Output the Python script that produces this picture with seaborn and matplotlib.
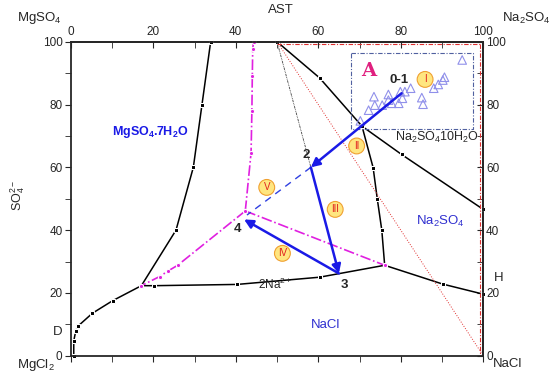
import matplotlib
matplotlib.use("Agg")
import matplotlib.pyplot as plt
import seaborn as sns
import pandas as pd
from matplotlib.ticker import MultipleLocator

# boundary curves of the phase diagram (x = Na2SO4 side, y = SO4 %)
mg7_x = [33.9, 31.8, 29.7, 25.5, 17.1]
mg7_y = [100, 80, 60, 40, 22.3]
d_x = [17.1, 10.1, 5.2, 1.8, 1.2, 0.7, 0.7]
d_y = [22.3, 17.5, 13.5, 9.5, 8.0, 4.7, 0]
nacl_x = [17.1, 20.2, 40.3, 60.3, 76.1]
nacl_y = [22.3, 22.3, 22.7, 25.0, 28.8]
h_x = [76.1, 90.2, 100]
h_y = [28.8, 22.8, 19.6]
na10_x = [70.6, 73.3, 74.3, 75.4, 76.1]
na10_y = [73.1, 59.9, 50.0, 40.0, 28.8]
ast_x = [50, 60.3, 70.6, 80.2, 100]
ast_y = [100, 88.5, 73.1, 64.1, 46.6]

# magenta dash-dot paths
mv_x = [44.3, 44.1, 44.0, 43.9, 43.7, 42.3]
mv_y = [100, 97.7, 89.1, 78.0, 64.6, 46.1]
ml_x = [42.3, 25.9, 23.6, 21.5, 17.1]
ml_y = [46.1, 28.8, 27.0, 25.2, 22.3]
mr_x = [42.3, 76.1]
mr_y = [46.1, 28.8]

# evaporation path points 0-1 -> 2 -> 3 -> 4
path_x = [80.2, 58.2, 65.0, 42.0]
path_y = [83.6, 60.0, 26.2, 43.4]

# samples in box A
tri_x = [94.9, 90.6, 90.2, 89.1, 88.0, 85.1, 85.4, 82.4, 81.0, 79.9,
         80.4, 79.5, 77.0, 77.0, 77.8, 75.5, 73.5, 73.7, 72.2, 70.2]
tri_y = [94.2, 88.7, 87.8, 86.4, 85.2, 82.2, 80.1, 85.2, 84.1, 84.1,
         82.0, 80.4, 83.2, 81.4, 80.4, 79.8, 82.5, 79.8, 78.2, 74.8]

roman = ["I", "II", "III", "IV", "V"]
roman_x = [85.9, 69.3, 64.1, 51.3, 47.5]
roman_y = [88.0, 66.8, 46.6, 32.6, 53.6]

sns.set_style("ticks")
plt.rcParams["font.family"] = ["Liberation Sans", "DejaVu Sans"]
plt.rcParams["mathtext.fontset"] = "custom"
plt.rcParams["mathtext.rm"] = "Liberation Sans"
plt.rcParams["mathtext.it"] = "Liberation Sans:italic"
plt.rcParams["mathtext.bf"] = "Liberation Sans:bold"

fig = plt.figure(figsize=(5.58, 3.76), dpi=100)
ax = fig.add_axes([0.127, 0.054, 0.739, 0.835])

def curve(xs, ys, **kw):
    df = pd.DataFrame({"x": xs, "y": ys})
    sns.lineplot(data=df, x="x", y="y", sort=False, estimator=None, ax=ax, clip_on=False, **kw)

for xs, ys in [(mg7_x, mg7_y), (d_x, d_y), (nacl_x, nacl_y), (h_x, h_y),
               (na10_x, na10_y), (ast_x, ast_y)]:
    curve(xs, ys, color="black", lw=1.1, marker="s", markersize=2.5)

for xs, ys in [(mv_x, mv_y), (ml_x, ml_y), (mr_x, mr_y)]:
    curve(xs, ys, color="#e020e0", lw=1.2, linestyle="-.", marker="o", markersize=3)

# guide lines
curve([50, 100], [100, 0], color="#e03030", lw=0.7, linestyle=":")
curve([50, 99.3], [99.3, 99.3], color="#e03030", lw=0.8, linestyle=(0, (4, 1.5, 1, 1.5)))
curve([99.3, 99.3], [99.3, 0], color="#e03030", lw=0.8, linestyle=(0, (4, 1.5, 1, 1.5)))
curve([50, path_x[1]], [100, path_y[1]], color="#404040", lw=0.6, linestyle=(0, (3, 1, 1, 1, 1, 1)))
curve([path_x[1], 42.7], [path_y[1], 44.8], color="#3040e0", lw=1.0, linestyle=(0, (5, 4)))

# box A
curve([68.0, 97.6, 97.6, 68.0, 68.0], [96.3, 96.3, 72.1, 72.1, 96.3],
      color="#5060a0", lw=0.8, linestyle=(0, (4, 1.5, 1, 1.5)))

sns.scatterplot(x=tri_x, y=tri_y, marker="^", s=38, facecolors="none",
                edgecolor="#9090ea", linewidth=0.8, ax=ax, zorder=4)

for i in range(len(path_x) - 1):
    ax.annotate("", xy=(path_x[i + 1], path_y[i + 1]), xytext=(path_x[i], path_y[i]),
                arrowprops=dict(arrowstyle="-|>", color="#1a1ae6", lw=1.8,
                                mutation_scale=13, shrinkA=0, shrinkB=0), zorder=5)

for r, x, y in zip(roman, roman_x, roman_y):
    ax.text(x, y, r, color="#e02020", fontsize=7, ha="center", va="center", zorder=6,
            bbox=dict(boxstyle="circle,pad=0.3", fc="#ffe680", ec="#f0a030", lw=0.8))

ax.set_xlim(0, 100)
ax.set_ylim(0, 100)
ax.set_xlabel("")
ax.set_ylabel("")
for s in ax.spines.values():
    s.set_visible(True)
    s.set_linewidth(1.3)

ax.xaxis.set_major_locator(MultipleLocator(20))
ax.xaxis.set_minor_locator(MultipleLocator(10))
ax.yaxis.set_major_locator(MultipleLocator(20))
ax.yaxis.set_minor_locator(MultipleLocator(10))
ax.tick_params(axis="x", which="both", direction="out", length=4, labelbottom=False)
ax.tick_params(axis="y", which="both", direction="out", length=4, labelsize=8.5, pad=2)

top = ax.secondary_xaxis("top")
top.xaxis.set_major_locator(MultipleLocator(20))
top.xaxis.set_minor_locator(MultipleLocator(10))
top.tick_params(which="both", direction="in", length=4, labelsize=8.5, pad=3)
top.spines["top"].set_linewidth(1.3)
top.yaxis.set_visible(False)

right = ax.secondary_yaxis("right")
right.yaxis.set_major_locator(MultipleLocator(20))
right.yaxis.set_minor_locator(MultipleLocator(10))
right.tick_params(which="both", direction="in", length=4, labelsize=8.5, pad=2)
right.spines["right"].set_linewidth(1.3)
right.xaxis.set_visible(False)

# empty offset texts / labels sit at the figure edges, hide them
for a in (ax.xaxis, ax.yaxis, top.xaxis, right.yaxis):
    a.offsetText.set_visible(False)
    a.label.set_visible(False)

def label(x, y, s, **kw):
    kw.setdefault("ha", "center")
    kw.setdefault("va", "center")
    ax.text(x, y, s, clip_on=False, **kw)

label(-7.6, 107.5, r"MgSO$_4$", fontsize=9.5)
label(110.4, 107.5, r"Na$_2$SO$_4$", fontsize=9.5)
label(51, 110, "AST", fontsize=9.5)
label(-8.5, -3.0, r"MgCl$_2$", fontsize=9.5)
label(105.8, -2.6, "NaCl", fontsize=9.5)
label(-3.3, 7.6, "D", fontsize=9.5)
label(103.8, 24.7, "H", fontsize=9.5)
label(-13, 51, r"SO$_4^{2-}$", fontsize=9, rotation=90)

label(19.2, 71.4, r"MgSO$_\mathbf{4}$.7H$_\mathbf{2}$O", fontsize=9, color="#1a1ae6", fontweight="bold")
label(88.9, 69.6, r"Na$_2$SO$_4$10H$_2$O", fontsize=9)
label(89.7, 42.6, r"Na$_2$SO$_4$", fontsize=9.5, color="#3030d0")
label(61.7, 9.8, "NaCl", fontsize=9.5, color="#3030d0")
label(49.6, 22.8, r"2Na$^{2+}$", fontsize=8.5)
label(72.2, 90.7, "A", fontsize=14, color="#e0207f", fontweight="bold", family="DejaVu Serif")

label(79.5, 87.8, "0-1", fontsize=9.5, fontweight="bold")
label(57.1, 64.0, "2", fontsize=9.5, fontweight="bold")
label(66.3, 22.5, "3", fontsize=9.5, fontweight="bold")
label(40.3, 40.3, "4", fontsize=9.5, fontweight="bold")

fig.savefig("out.png", dpi=100)
